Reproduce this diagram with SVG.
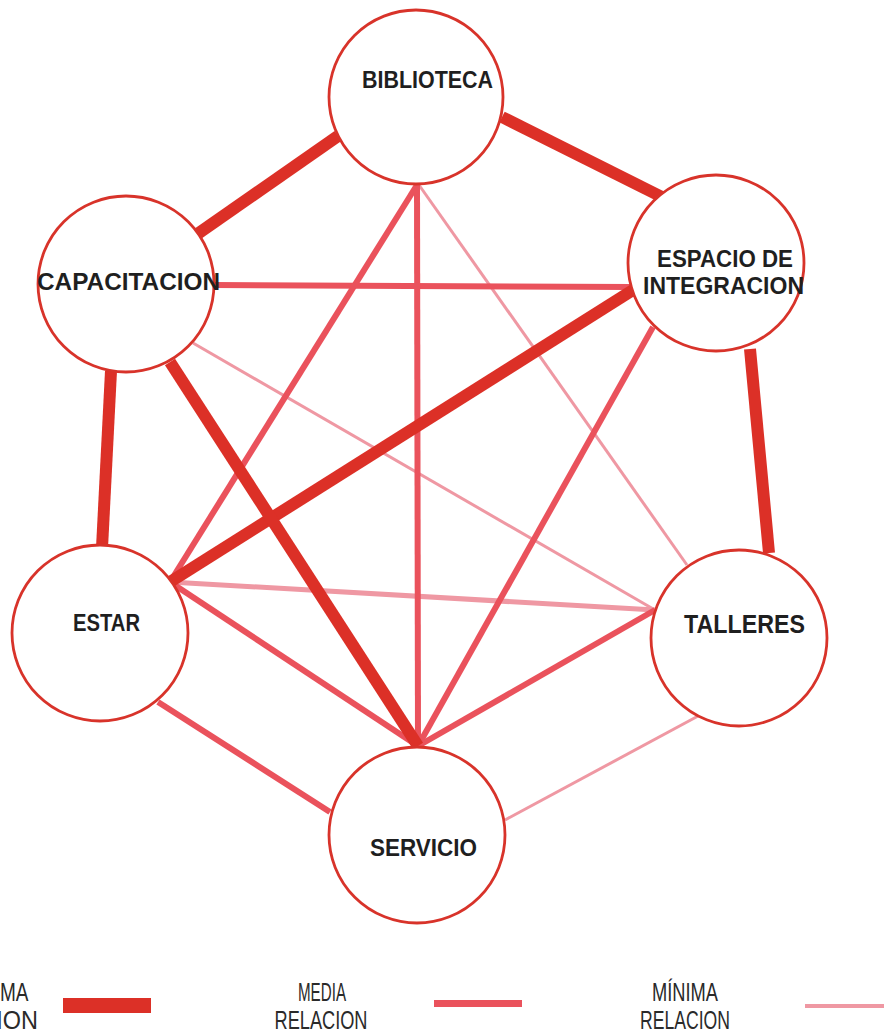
<svg xmlns="http://www.w3.org/2000/svg" width="884" height="1036" viewBox="0 0 884 1036">
<style>
.max{stroke:#dc3027;stroke-width:12;stroke-linecap:butt;fill:none}
.med{stroke:#ea525c;stroke-width:6;stroke-linecap:butt;fill:none}
.min{stroke:#ef98a3;stroke-width:3;stroke-linecap:butt;fill:none}
.node circle{fill:#fff;stroke:#d8332a;stroke-width:2.8}
.lbl{font-family:"Liberation Sans",Arial,sans-serif;font-weight:bold;font-size:24px;fill:#1f1f1f}
.leg{font-family:"Liberation Sans",Arial,sans-serif;font-size:25px;fill:#2a2a2a;text-anchor:middle}
</style>
<rect width="884" height="1036" fill="#fff"/>
<g id="connectors">
<line class="min" x1="419" y1="185" x2="687" y2="565"/>
<line class="min" x1="193" y1="343" x2="655" y2="610"/>
<line class="min" x1="700" y1="715" x2="505" y2="820"/>
<line class="min" x1="170" y1="582" x2="655" y2="610" style="stroke-width:5"/>
<line class="med" x1="214" y1="285" x2="632" y2="287"/>
<line class="med" x1="417" y1="185" x2="170" y2="582"/>
<line class="med" x1="417" y1="185" x2="418" y2="746"/>
<line class="med" x1="653" y1="327" x2="418" y2="746"/>
<line class="med" x1="170" y1="582" x2="418" y2="746"/>
<line class="med" x1="655" y1="610" x2="418" y2="746"/>
<line class="med" x1="158" y1="702" x2="330" y2="812"/>
<line class="max" x1="338" y1="136" x2="196" y2="235"/>
<line class="max" x1="502" y1="117" x2="662" y2="197"/>
<line class="max" x1="111" y1="371" x2="102" y2="548"/>
<line class="max" x1="750" y1="349" x2="769" y2="553"/>
<line class="max" x1="170" y1="582" x2="633" y2="290"/>
<line class="max" x1="170" y1="362" x2="418" y2="746"/>
</g>
<g id="biblioteca" class="node"><circle cx="416" cy="97" r="87"/><text class="lbl" x="362" y="88" textLength="131" lengthAdjust="spacingAndGlyphs">BIBLIOTECA</text></g>
<g id="capacitacion" class="node"><circle cx="126" cy="284" r="88"/><text class="lbl" x="37" y="290" textLength="183" lengthAdjust="spacingAndGlyphs">CAPACITACION</text></g>
<g id="espacio" class="node"><circle cx="716" cy="263" r="88"/><text class="lbl" x="657" y="267" textLength="136" lengthAdjust="spacingAndGlyphs">ESPACIO DE</text><text class="lbl" x="643" y="294" textLength="161" lengthAdjust="spacingAndGlyphs">INTEGRACION</text></g>
<g id="estar" class="node"><circle cx="100" cy="633" r="88"/><text class="lbl" x="73" y="631" textLength="67" lengthAdjust="spacingAndGlyphs">ESTAR</text></g>
<g id="talleres" class="node"><circle cx="739" cy="638" r="88"/><text class="lbl" x="684" y="633" textLength="121" lengthAdjust="spacingAndGlyphs" style="font-size:26px">TALLERES</text></g>
<g id="servicio" class="node"><circle cx="417" cy="835" r="88"/><text class="lbl" x="370" y="856" textLength="107" lengthAdjust="spacingAndGlyphs">SERVICIO</text></g>
<g id="legend">
<text class="leg" x="-9" y="1001" textLength="75" lengthAdjust="spacingAndGlyphs">MÁXIMA</text>
<text class="leg" x="-22" y="1029" textLength="120" lengthAdjust="spacingAndGlyphs">RELACION</text>
<rect x="63" y="998" width="88" height="15" fill="#dc3027"/>
<text class="leg" x="322" y="1001" textLength="48" lengthAdjust="spacingAndGlyphs">MEDIA</text>
<text class="leg" x="321" y="1029" textLength="93" lengthAdjust="spacingAndGlyphs">RELACION</text>
<rect x="434" y="1000" width="88" height="7" fill="#ea525c"/>
<text class="leg" x="685" y="1001" textLength="66" lengthAdjust="spacingAndGlyphs">MÍNIMA</text>
<text class="leg" x="685" y="1029" textLength="90" lengthAdjust="spacingAndGlyphs">RELACION</text>
<rect x="805" y="1004" width="79" height="4" fill="#ef98a3"/>
</g>
</svg>
